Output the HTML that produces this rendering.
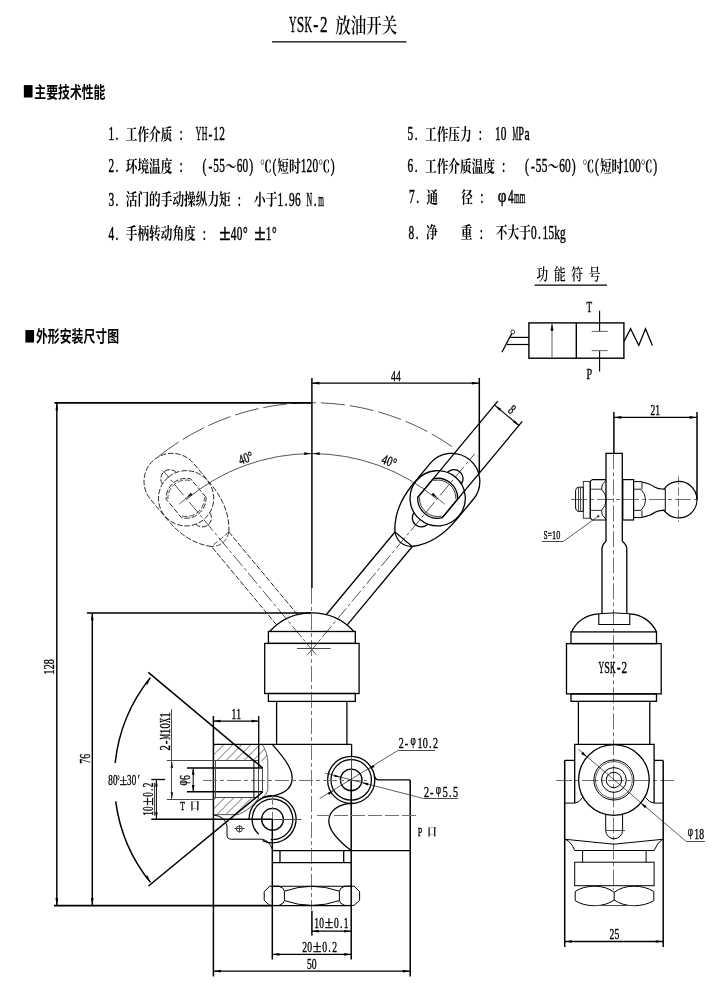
<!DOCTYPE html>
<html lang="zh-CN">
<head>
<meta charset="utf-8">
<title>YSK-2 放油开关</title>
<style>
html,body{margin:0;padding:0;background:#fff;}
body{width:726px;height:986px;overflow:hidden;}
svg{display:block;will-change:transform;}
</style>
</head>
<body>
<svg width="726" height="986" viewBox="0 0 726 986" stroke-linecap="butt">
<rect x="0" y="0" width="726" height="986" fill="#fff"/>
<!-- title -->
<text transform="translate(288.8,32.2)" font-family="'Liberation Serif','Noto Serif CJK SC',serif" fill="#000"><tspan x="0.12" y="0" font-size="23.5" textLength="7.52" lengthAdjust="spacingAndGlyphs" stroke="#000" stroke-width="0.4">Y</tspan><tspan x="7.87" y="0" font-size="23.5" textLength="7.52" lengthAdjust="spacingAndGlyphs" stroke="#000" stroke-width="0.4">S</tspan><tspan x="15.62" y="0" font-size="23.5" textLength="7.52" lengthAdjust="spacingAndGlyphs" stroke="#000" stroke-width="0.4">K</tspan><tspan x="24.54" y="0" font-size="23.5" textLength="5.16" lengthAdjust="spacingAndGlyphs" stroke="#000" stroke-width="0.4">-</tspan><tspan x="31.12" y="0" font-size="23.5" textLength="7.52" lengthAdjust="spacingAndGlyphs" stroke="#000" stroke-width="0.4">2</tspan> <tspan x="46.5" y="1" font-size="20.8" textLength="15.5" lengthAdjust="spacingAndGlyphs" font-weight="600">放</tspan><tspan x="62" y="1" font-size="20.8" textLength="15.5" lengthAdjust="spacingAndGlyphs" font-weight="600">油</tspan><tspan x="77.5" y="1" font-size="20.8" textLength="15.5" lengthAdjust="spacingAndGlyphs" font-weight="600">开</tspan><tspan x="93" y="1" font-size="20.8" textLength="15.5" lengthAdjust="spacingAndGlyphs" font-weight="600">关</tspan></text>
<line x1="272" y1="41.9" x2="406.5" y2="41.9" stroke="#000" stroke-width="1.2"/>
<!-- section headings -->
<text transform="translate(28.1,99.2) scale(0.7,1)" text-anchor="middle" font-family="'Liberation Sans','Noto Sans CJK SC',sans-serif" font-weight="bold" font-size="25.8">■</text>
<text transform="translate(34.3,97.6)" font-family="'Liberation Sans','Noto Sans CJK SC',sans-serif" fill="#000" font-weight="bold"><tspan x="0" y="0" font-size="15.6" textLength="11.86" lengthAdjust="spacingAndGlyphs">主</tspan><tspan x="11.86" y="0" font-size="15.6" textLength="11.86" lengthAdjust="spacingAndGlyphs">要</tspan><tspan x="23.72" y="0" font-size="15.6" textLength="11.86" lengthAdjust="spacingAndGlyphs">技</tspan><tspan x="35.58" y="0" font-size="15.6" textLength="11.86" lengthAdjust="spacingAndGlyphs">术</tspan><tspan x="47.44" y="0" font-size="15.6" textLength="11.86" lengthAdjust="spacingAndGlyphs">性</tspan><tspan x="59.3" y="0" font-size="15.6" textLength="11.86" lengthAdjust="spacingAndGlyphs">能</tspan></text>
<text transform="translate(29.8,343.6) scale(0.7,1)" text-anchor="middle" font-family="'Liberation Sans','Noto Sans CJK SC',sans-serif" font-weight="bold" font-size="25.8">■</text>
<text transform="translate(36,342)" font-family="'Liberation Sans','Noto Sans CJK SC',sans-serif" fill="#000" font-weight="bold"><tspan x="0" y="0" font-size="15.6" textLength="11.86" lengthAdjust="spacingAndGlyphs">外</tspan><tspan x="11.86" y="0" font-size="15.6" textLength="11.86" lengthAdjust="spacingAndGlyphs">形</tspan><tspan x="23.72" y="0" font-size="15.6" textLength="11.86" lengthAdjust="spacingAndGlyphs">安</tspan><tspan x="35.58" y="0" font-size="15.6" textLength="11.86" lengthAdjust="spacingAndGlyphs">装</tspan><tspan x="47.44" y="0" font-size="15.6" textLength="11.86" lengthAdjust="spacingAndGlyphs">尺</tspan><tspan x="59.3" y="0" font-size="15.6" textLength="11.86" lengthAdjust="spacingAndGlyphs">寸</tspan><tspan x="71.16" y="0" font-size="15.6" textLength="11.86" lengthAdjust="spacingAndGlyphs">图</tspan></text>
<!-- spec list -->
<text transform="translate(108.3,140.3)" font-family="'Liberation Serif','Noto Serif CJK SC',serif" fill="#000"><tspan x="0.09" y="0" font-size="17.8" textLength="5.66" lengthAdjust="spacingAndGlyphs" stroke="#000" stroke-width="0.45">1</tspan><tspan x="7.29" y="0" font-size="17.8" textLength="2.92" lengthAdjust="spacingAndGlyphs" stroke="#000" stroke-width="0.45">.</tspan> <tspan x="17.49" y="-0.3" font-size="15.8" textLength="11.66" lengthAdjust="spacingAndGlyphs" font-weight="700">工</tspan><tspan x="29.15" y="-0.3" font-size="15.8" textLength="11.66" lengthAdjust="spacingAndGlyphs" font-weight="700">作</tspan><tspan x="40.81" y="-0.3" font-size="15.8" textLength="11.66" lengthAdjust="spacingAndGlyphs" font-weight="700">介</tspan><tspan x="52.47" y="-0.3" font-size="15.8" textLength="11.66" lengthAdjust="spacingAndGlyphs" font-weight="700">质</tspan> <tspan x="71.25" y="0" font-size="17.8" textLength="3.24" lengthAdjust="spacingAndGlyphs" stroke="#000" stroke-width="0.45">:</tspan>  <tspan x="87.54" y="0" font-size="17.8" textLength="5.66" lengthAdjust="spacingAndGlyphs" stroke="#000" stroke-width="0.45">Y</tspan><tspan x="93.37" y="0" font-size="17.8" textLength="5.66" lengthAdjust="spacingAndGlyphs" stroke="#000" stroke-width="0.45">H</tspan><tspan x="100.08" y="0" font-size="17.8" textLength="3.88" lengthAdjust="spacingAndGlyphs" stroke="#000" stroke-width="0.45">-</tspan><tspan x="105.03" y="0" font-size="17.8" textLength="5.66" lengthAdjust="spacingAndGlyphs" stroke="#000" stroke-width="0.45">1</tspan><tspan x="110.86" y="0" font-size="17.8" textLength="5.66" lengthAdjust="spacingAndGlyphs" stroke="#000" stroke-width="0.45">2</tspan></text>
<text transform="translate(108.3,172.4)" font-family="'Liberation Serif','Noto Serif CJK SC',serif" fill="#000"><tspan x="0.09" y="0" font-size="17.8" textLength="5.66" lengthAdjust="spacingAndGlyphs" stroke="#000" stroke-width="0.45">2</tspan><tspan x="7.29" y="0" font-size="17.8" textLength="2.92" lengthAdjust="spacingAndGlyphs" stroke="#000" stroke-width="0.45">.</tspan> <tspan x="17.49" y="-0.3" font-size="15.8" textLength="11.66" lengthAdjust="spacingAndGlyphs" font-weight="700">环</tspan><tspan x="29.15" y="-0.3" font-size="15.8" textLength="11.66" lengthAdjust="spacingAndGlyphs" font-weight="700">境</tspan><tspan x="40.81" y="-0.3" font-size="15.8" textLength="11.66" lengthAdjust="spacingAndGlyphs" font-weight="700">温</tspan><tspan x="52.47" y="-0.3" font-size="15.8" textLength="11.66" lengthAdjust="spacingAndGlyphs" font-weight="700">度</tspan> <tspan x="71.25" y="0" font-size="17.8" textLength="3.24" lengthAdjust="spacingAndGlyphs" stroke="#000" stroke-width="0.45">:</tspan>   <tspan x="94.25" y="0" font-size="17.8" textLength="3.88" lengthAdjust="spacingAndGlyphs" stroke="#000" stroke-width="0.45">(</tspan><tspan x="100.08" y="0" font-size="17.8" textLength="3.88" lengthAdjust="spacingAndGlyphs" stroke="#000" stroke-width="0.45">-</tspan><tspan x="105.03" y="0" font-size="17.8" textLength="5.66" lengthAdjust="spacingAndGlyphs" stroke="#000" stroke-width="0.45">5</tspan><tspan x="110.86" y="0" font-size="17.8" textLength="5.66" lengthAdjust="spacingAndGlyphs" stroke="#000" stroke-width="0.45">5</tspan><tspan x="116.6" y="-0.3" font-size="15.8" textLength="11.66" lengthAdjust="spacingAndGlyphs" font-weight="700">～</tspan><tspan x="128.35" y="0" font-size="17.8" textLength="5.66" lengthAdjust="spacingAndGlyphs" stroke="#000" stroke-width="0.45">6</tspan><tspan x="134.18" y="0" font-size="17.8" textLength="5.66" lengthAdjust="spacingAndGlyphs" stroke="#000" stroke-width="0.45">0</tspan><tspan x="140.89" y="0" font-size="17.8" textLength="3.88" lengthAdjust="spacingAndGlyphs" stroke="#000" stroke-width="0.45">)</tspan> <tspan x="151.58" y="-0.3" font-size="15.8" textLength="11.66" lengthAdjust="spacingAndGlyphs" font-weight="700">℃</tspan><tspan x="164.21" y="0" font-size="17.8" textLength="3.88" lengthAdjust="spacingAndGlyphs" stroke="#000" stroke-width="0.45">(</tspan><tspan x="169.07" y="-0.3" font-size="15.8" textLength="11.66" lengthAdjust="spacingAndGlyphs" font-weight="700">短</tspan><tspan x="180.73" y="-0.3" font-size="15.8" textLength="11.66" lengthAdjust="spacingAndGlyphs" font-weight="700">时</tspan><tspan x="192.48" y="0" font-size="17.8" textLength="5.66" lengthAdjust="spacingAndGlyphs" stroke="#000" stroke-width="0.45">1</tspan><tspan x="198.31" y="0" font-size="17.8" textLength="5.66" lengthAdjust="spacingAndGlyphs" stroke="#000" stroke-width="0.45">2</tspan><tspan x="204.14" y="0" font-size="17.8" textLength="5.66" lengthAdjust="spacingAndGlyphs" stroke="#000" stroke-width="0.45">0</tspan><tspan x="209.88" y="-0.3" font-size="15.8" textLength="11.66" lengthAdjust="spacingAndGlyphs" font-weight="700">℃</tspan><tspan x="222.51" y="0" font-size="17.8" textLength="3.88" lengthAdjust="spacingAndGlyphs" stroke="#000" stroke-width="0.45">)</tspan></text>
<text transform="translate(108.3,205.7)" font-family="'Liberation Serif','Noto Serif CJK SC',serif" fill="#000"><tspan x="0.09" y="0" font-size="17.8" textLength="5.66" lengthAdjust="spacingAndGlyphs" stroke="#000" stroke-width="0.45">3</tspan><tspan x="7.29" y="0" font-size="17.8" textLength="2.92" lengthAdjust="spacingAndGlyphs" stroke="#000" stroke-width="0.45">.</tspan> <tspan x="17.49" y="-0.3" font-size="15.8" textLength="11.66" lengthAdjust="spacingAndGlyphs" font-weight="700">活</tspan><tspan x="29.15" y="-0.3" font-size="15.8" textLength="11.66" lengthAdjust="spacingAndGlyphs" font-weight="700">门</tspan><tspan x="40.81" y="-0.3" font-size="15.8" textLength="11.66" lengthAdjust="spacingAndGlyphs" font-weight="700">的</tspan><tspan x="52.47" y="-0.3" font-size="15.8" textLength="11.66" lengthAdjust="spacingAndGlyphs" font-weight="700">手</tspan><tspan x="64.13" y="-0.3" font-size="15.8" textLength="11.66" lengthAdjust="spacingAndGlyphs" font-weight="700">动</tspan><tspan x="75.79" y="-0.3" font-size="15.8" textLength="11.66" lengthAdjust="spacingAndGlyphs" font-weight="700">操</tspan><tspan x="87.45" y="-0.3" font-size="15.8" textLength="11.66" lengthAdjust="spacingAndGlyphs" font-weight="700">纵</tspan><tspan x="99.11" y="-0.3" font-size="15.8" textLength="11.66" lengthAdjust="spacingAndGlyphs" font-weight="700">力</tspan><tspan x="110.77" y="-0.3" font-size="15.8" textLength="11.66" lengthAdjust="spacingAndGlyphs" font-weight="700">矩</tspan> <tspan x="129.55" y="0" font-size="17.8" textLength="3.24" lengthAdjust="spacingAndGlyphs" stroke="#000" stroke-width="0.45">:</tspan>  <tspan x="145.75" y="-0.3" font-size="15.8" textLength="11.66" lengthAdjust="spacingAndGlyphs" font-weight="700">小</tspan><tspan x="157.41" y="-0.3" font-size="15.8" textLength="11.66" lengthAdjust="spacingAndGlyphs" font-weight="700">于</tspan><tspan x="169.16" y="0" font-size="17.8" textLength="5.66" lengthAdjust="spacingAndGlyphs" stroke="#000" stroke-width="0.45">1</tspan><tspan x="176.36" y="0" font-size="17.8" textLength="2.92" lengthAdjust="spacingAndGlyphs" stroke="#000" stroke-width="0.45">.</tspan><tspan x="180.82" y="0" font-size="17.8" textLength="5.66" lengthAdjust="spacingAndGlyphs" stroke="#000" stroke-width="0.45">9</tspan><tspan x="186.65" y="0" font-size="17.8" textLength="5.66" lengthAdjust="spacingAndGlyphs" stroke="#000" stroke-width="0.45">6</tspan> <tspan x="198.31" y="0" font-size="17.8" textLength="5.66" lengthAdjust="spacingAndGlyphs" stroke="#000" stroke-width="0.45">N</tspan><tspan x="205.51" y="0" font-size="17.8" textLength="2.92" lengthAdjust="spacingAndGlyphs" stroke="#000" stroke-width="0.45">.</tspan><tspan x="209.97" y="0" font-size="17.8" textLength="5.66" lengthAdjust="spacingAndGlyphs" stroke="#000" stroke-width="0.45">m</tspan></text>
<text transform="translate(108.3,239.7)" font-family="'Liberation Serif','Noto Serif CJK SC',serif" fill="#000"><tspan x="0.09" y="0" font-size="17.8" textLength="5.66" lengthAdjust="spacingAndGlyphs" stroke="#000" stroke-width="0.45">4</tspan><tspan x="7.29" y="0" font-size="17.8" textLength="2.92" lengthAdjust="spacingAndGlyphs" stroke="#000" stroke-width="0.45">.</tspan> <tspan x="17.49" y="-0.3" font-size="15.8" textLength="11.66" lengthAdjust="spacingAndGlyphs" font-weight="700">手</tspan><tspan x="29.15" y="-0.3" font-size="15.8" textLength="11.66" lengthAdjust="spacingAndGlyphs" font-weight="700">柄</tspan><tspan x="40.81" y="-0.3" font-size="15.8" textLength="11.66" lengthAdjust="spacingAndGlyphs" font-weight="700">转</tspan><tspan x="52.47" y="-0.3" font-size="15.8" textLength="11.66" lengthAdjust="spacingAndGlyphs" font-weight="700">动</tspan><tspan x="64.13" y="-0.3" font-size="15.8" textLength="11.66" lengthAdjust="spacingAndGlyphs" font-weight="700">角</tspan><tspan x="75.79" y="-0.3" font-size="15.8" textLength="11.66" lengthAdjust="spacingAndGlyphs" font-weight="700">度</tspan> <tspan x="94.57" y="0" font-size="17.8" textLength="3.24" lengthAdjust="spacingAndGlyphs" stroke="#000" stroke-width="0.45">:</tspan>  <tspan x="110.94" y="0" font-size="22.25" textLength="11.31" lengthAdjust="spacingAndGlyphs" stroke="#000" stroke-width="0.45">±</tspan><tspan x="122.52" y="0" font-size="17.8" textLength="5.66" lengthAdjust="spacingAndGlyphs" stroke="#000" stroke-width="0.45">4</tspan><tspan x="128.35" y="0" font-size="17.8" textLength="5.66" lengthAdjust="spacingAndGlyphs" stroke="#000" stroke-width="0.45">0</tspan><tspan x="134.67" y="0" font-size="17.8" textLength="4.66" lengthAdjust="spacingAndGlyphs" stroke="#000" stroke-width="0.45">°</tspan> <tspan x="145.92" y="0" font-size="22.25" textLength="11.31" lengthAdjust="spacingAndGlyphs" stroke="#000" stroke-width="0.45">±</tspan><tspan x="157.5" y="0" font-size="17.8" textLength="5.66" lengthAdjust="spacingAndGlyphs" stroke="#000" stroke-width="0.45">1</tspan><tspan x="163.82" y="0" font-size="17.8" textLength="4.66" lengthAdjust="spacingAndGlyphs" stroke="#000" stroke-width="0.45">°</tspan></text>
<text transform="translate(407.5,140)" font-family="'Liberation Serif','Noto Serif CJK SC',serif" fill="#000"><tspan x="0.09" y="0" font-size="17.8" textLength="5.66" lengthAdjust="spacingAndGlyphs" stroke="#000" stroke-width="0.45">5</tspan><tspan x="7.29" y="0" font-size="17.8" textLength="2.92" lengthAdjust="spacingAndGlyphs" stroke="#000" stroke-width="0.45">.</tspan> <tspan x="17.49" y="-0.3" font-size="15.8" textLength="11.66" lengthAdjust="spacingAndGlyphs" font-weight="700">工</tspan><tspan x="29.15" y="-0.3" font-size="15.8" textLength="11.66" lengthAdjust="spacingAndGlyphs" font-weight="700">作</tspan><tspan x="40.81" y="-0.3" font-size="15.8" textLength="11.66" lengthAdjust="spacingAndGlyphs" font-weight="700">压</tspan><tspan x="52.47" y="-0.3" font-size="15.8" textLength="11.66" lengthAdjust="spacingAndGlyphs" font-weight="700">力</tspan> <tspan x="71.25" y="0" font-size="17.8" textLength="3.24" lengthAdjust="spacingAndGlyphs" stroke="#000" stroke-width="0.45">:</tspan>  <tspan x="87.54" y="0" font-size="17.8" textLength="5.66" lengthAdjust="spacingAndGlyphs" stroke="#000" stroke-width="0.45">1</tspan><tspan x="93.37" y="0" font-size="17.8" textLength="5.66" lengthAdjust="spacingAndGlyphs" stroke="#000" stroke-width="0.45">0</tspan> <tspan x="105.03" y="0" font-size="17.8" textLength="5.66" lengthAdjust="spacingAndGlyphs" stroke="#000" stroke-width="0.45">M</tspan><tspan x="110.86" y="0" font-size="17.8" textLength="5.66" lengthAdjust="spacingAndGlyphs" stroke="#000" stroke-width="0.45">P</tspan><tspan x="116.93" y="0" font-size="17.8" textLength="5.18" lengthAdjust="spacingAndGlyphs" stroke="#000" stroke-width="0.45">a</tspan></text>
<text transform="translate(407.5,171.9)" font-family="'Liberation Serif','Noto Serif CJK SC',serif" fill="#000"><tspan x="0.09" y="0" font-size="17.8" textLength="5.66" lengthAdjust="spacingAndGlyphs" stroke="#000" stroke-width="0.45">6</tspan><tspan x="7.29" y="0" font-size="17.8" textLength="2.92" lengthAdjust="spacingAndGlyphs" stroke="#000" stroke-width="0.45">.</tspan> <tspan x="17.49" y="-0.3" font-size="15.8" textLength="11.66" lengthAdjust="spacingAndGlyphs" font-weight="700">工</tspan><tspan x="29.15" y="-0.3" font-size="15.8" textLength="11.66" lengthAdjust="spacingAndGlyphs" font-weight="700">作</tspan><tspan x="40.81" y="-0.3" font-size="15.8" textLength="11.66" lengthAdjust="spacingAndGlyphs" font-weight="700">介</tspan><tspan x="52.47" y="-0.3" font-size="15.8" textLength="11.66" lengthAdjust="spacingAndGlyphs" font-weight="700">质</tspan><tspan x="64.13" y="-0.3" font-size="15.8" textLength="11.66" lengthAdjust="spacingAndGlyphs" font-weight="700">温</tspan><tspan x="75.79" y="-0.3" font-size="15.8" textLength="11.66" lengthAdjust="spacingAndGlyphs" font-weight="700">度</tspan> <tspan x="94.57" y="0" font-size="17.8" textLength="3.24" lengthAdjust="spacingAndGlyphs" stroke="#000" stroke-width="0.45">:</tspan>   <tspan x="117.57" y="0" font-size="17.8" textLength="3.88" lengthAdjust="spacingAndGlyphs" stroke="#000" stroke-width="0.45">(</tspan><tspan x="123.4" y="0" font-size="17.8" textLength="3.88" lengthAdjust="spacingAndGlyphs" stroke="#000" stroke-width="0.45">-</tspan><tspan x="128.35" y="0" font-size="17.8" textLength="5.66" lengthAdjust="spacingAndGlyphs" stroke="#000" stroke-width="0.45">5</tspan><tspan x="134.18" y="0" font-size="17.8" textLength="5.66" lengthAdjust="spacingAndGlyphs" stroke="#000" stroke-width="0.45">5</tspan><tspan x="139.92" y="-0.3" font-size="15.8" textLength="11.66" lengthAdjust="spacingAndGlyphs" font-weight="700">～</tspan><tspan x="151.67" y="0" font-size="17.8" textLength="5.66" lengthAdjust="spacingAndGlyphs" stroke="#000" stroke-width="0.45">6</tspan><tspan x="157.5" y="0" font-size="17.8" textLength="5.66" lengthAdjust="spacingAndGlyphs" stroke="#000" stroke-width="0.45">0</tspan><tspan x="164.21" y="0" font-size="17.8" textLength="3.88" lengthAdjust="spacingAndGlyphs" stroke="#000" stroke-width="0.45">)</tspan> <tspan x="174.9" y="-0.3" font-size="15.8" textLength="11.66" lengthAdjust="spacingAndGlyphs" font-weight="700">℃</tspan><tspan x="187.53" y="0" font-size="17.8" textLength="3.88" lengthAdjust="spacingAndGlyphs" stroke="#000" stroke-width="0.45">(</tspan><tspan x="192.39" y="-0.3" font-size="15.8" textLength="11.66" lengthAdjust="spacingAndGlyphs" font-weight="700">短</tspan><tspan x="204.05" y="-0.3" font-size="15.8" textLength="11.66" lengthAdjust="spacingAndGlyphs" font-weight="700">时</tspan><tspan x="215.8" y="0" font-size="17.8" textLength="5.66" lengthAdjust="spacingAndGlyphs" stroke="#000" stroke-width="0.45">1</tspan><tspan x="221.63" y="0" font-size="17.8" textLength="5.66" lengthAdjust="spacingAndGlyphs" stroke="#000" stroke-width="0.45">0</tspan><tspan x="227.46" y="0" font-size="17.8" textLength="5.66" lengthAdjust="spacingAndGlyphs" stroke="#000" stroke-width="0.45">0</tspan><tspan x="233.2" y="-0.3" font-size="15.8" textLength="11.66" lengthAdjust="spacingAndGlyphs" font-weight="700">℃</tspan><tspan x="245.83" y="0" font-size="17.8" textLength="3.88" lengthAdjust="spacingAndGlyphs" stroke="#000" stroke-width="0.45">)</tspan></text>
<text transform="translate(408.9,203.3)" font-family="'Liberation Serif','Noto Serif CJK SC',serif" fill="#000"><tspan x="0.09" y="0" font-size="17.8" textLength="5.66" lengthAdjust="spacingAndGlyphs" stroke="#000" stroke-width="0.45">7</tspan><tspan x="7.29" y="0" font-size="17.8" textLength="2.92" lengthAdjust="spacingAndGlyphs" stroke="#000" stroke-width="0.45">.</tspan> <tspan x="17.49" y="-0.3" font-size="15.8" textLength="11.66" lengthAdjust="spacingAndGlyphs" font-weight="700">通</tspan>    <tspan x="52.47" y="-0.3" font-size="15.8" textLength="11.66" lengthAdjust="spacingAndGlyphs" font-weight="700">径</tspan> <tspan x="71.25" y="0" font-size="17.8" textLength="3.24" lengthAdjust="spacingAndGlyphs" stroke="#000" stroke-width="0.45">:</tspan>  <tspan x="88.91" y="-1.78" font-size="17.8" textLength="8.73" lengthAdjust="spacingAndGlyphs" stroke="#000" stroke-width="0.45">φ</tspan><tspan x="99.2" y="0" font-size="17.8" textLength="5.66" lengthAdjust="spacingAndGlyphs" stroke="#000" stroke-width="0.45">4</tspan><tspan x="105.03" y="0" font-size="17.8" textLength="5.66" lengthAdjust="spacingAndGlyphs" stroke="#000" stroke-width="0.45">m</tspan><tspan x="110.86" y="0" font-size="17.8" textLength="5.66" lengthAdjust="spacingAndGlyphs" stroke="#000" stroke-width="0.45">m</tspan></text>
<text transform="translate(408.4,238.7)" font-family="'Liberation Serif','Noto Serif CJK SC',serif" fill="#000"><tspan x="0.09" y="0" font-size="17.8" textLength="5.66" lengthAdjust="spacingAndGlyphs" stroke="#000" stroke-width="0.45">8</tspan><tspan x="7.29" y="0" font-size="17.8" textLength="2.92" lengthAdjust="spacingAndGlyphs" stroke="#000" stroke-width="0.45">.</tspan> <tspan x="17.49" y="-0.3" font-size="15.8" textLength="11.66" lengthAdjust="spacingAndGlyphs" font-weight="700">净</tspan>    <tspan x="52.47" y="-0.3" font-size="15.8" textLength="11.66" lengthAdjust="spacingAndGlyphs" font-weight="700">重</tspan> <tspan x="71.25" y="0" font-size="17.8" textLength="3.24" lengthAdjust="spacingAndGlyphs" stroke="#000" stroke-width="0.45">:</tspan>  <tspan x="87.45" y="-0.3" font-size="15.8" textLength="11.66" lengthAdjust="spacingAndGlyphs" font-weight="700">不</tspan><tspan x="99.11" y="-0.3" font-size="15.8" textLength="11.66" lengthAdjust="spacingAndGlyphs" font-weight="700">大</tspan><tspan x="110.77" y="-0.3" font-size="15.8" textLength="11.66" lengthAdjust="spacingAndGlyphs" font-weight="700">于</tspan><tspan x="122.52" y="0" font-size="17.8" textLength="5.66" lengthAdjust="spacingAndGlyphs" stroke="#000" stroke-width="0.45">0</tspan><tspan x="129.72" y="0" font-size="17.8" textLength="2.92" lengthAdjust="spacingAndGlyphs" stroke="#000" stroke-width="0.45">.</tspan><tspan x="134.18" y="0" font-size="17.8" textLength="5.66" lengthAdjust="spacingAndGlyphs" stroke="#000" stroke-width="0.45">1</tspan><tspan x="140.01" y="0" font-size="17.8" textLength="5.66" lengthAdjust="spacingAndGlyphs" stroke="#000" stroke-width="0.45">5</tspan><tspan x="145.84" y="0" font-size="17.8" textLength="5.66" lengthAdjust="spacingAndGlyphs" stroke="#000" stroke-width="0.45">k</tspan><tspan x="151.67" y="0" font-size="17.8" textLength="5.66" lengthAdjust="spacingAndGlyphs" stroke="#000" stroke-width="0.45">g</tspan></text>
<!-- function symbol -->
<text transform="translate(536.4,280.6)" font-family="'Liberation Serif','Noto Serif CJK SC',serif" fill="#000"><tspan x="0" y="-0.3" font-size="15.6" textLength="11.66" lengthAdjust="spacingAndGlyphs" font-weight="600">功</tspan> <tspan x="17.49" y="-0.3" font-size="15.6" textLength="11.66" lengthAdjust="spacingAndGlyphs" font-weight="600">能</tspan> <tspan x="34.98" y="-0.3" font-size="15.6" textLength="11.66" lengthAdjust="spacingAndGlyphs" font-weight="600">符</tspan> <tspan x="52.47" y="-0.3" font-size="15.6" textLength="11.66" lengthAdjust="spacingAndGlyphs" font-weight="600">号</tspan></text>
<line x1="534.6" y1="285.1" x2="607" y2="285.1" stroke="#000" stroke-width="1.1"/>
<rect x="528.9" y="322.9" width="95" height="35.3" fill="none" stroke="#000" stroke-width="1.4"/>
<line x1="576.3" y1="322.9" x2="576.3" y2="358.2" stroke="#000" stroke-width="1.4"/>
<line x1="552" y1="358" x2="552" y2="324" stroke="#707070" stroke-width="1.1"/>
<polygon points="552,323.2 553.5,330.7 550.5,330.7" fill="#000"/>
<line x1="599.6" y1="310.8" x2="599.6" y2="331.2" stroke="#000" stroke-width="1.1"/>
<line x1="591.7" y1="331.4" x2="607.8" y2="331.4" stroke="#707070" stroke-width="1.1"/>
<line x1="599.6" y1="350.5" x2="599.6" y2="371.6" stroke="#000" stroke-width="1.1"/>
<line x1="591.7" y1="350.6" x2="607.8" y2="350.6" stroke="#707070" stroke-width="1.1"/>
<text transform="translate(586.3,311.8)" font-family="'Liberation Serif','Noto Serif CJK SC',serif" fill="#000"><tspan x="0.09" y="0" font-size="14.5" textLength="5.66" lengthAdjust="spacingAndGlyphs" stroke="#000" stroke-width="0.35">T</tspan></text>
<text transform="translate(586.3,379.4)" font-family="'Liberation Serif','Noto Serif CJK SC',serif" fill="#000"><tspan x="0.09" y="0" font-size="14.5" textLength="5.66" lengthAdjust="spacingAndGlyphs" stroke="#000" stroke-width="0.35">P</tspan></text>
<path d="M623.9,341.8 L630.6,328.7 L638.8,345.5 L645.5,328.7 L652.4,345.5" fill="none" stroke="#000" stroke-width="1.3"/>
<circle cx="512.8" cy="331.9" r="1.9" fill="none" stroke="#000" stroke-width="0.8"/>
<line x1="511.8" y1="333.6" x2="501.9" y2="352.2" stroke="#000" stroke-width="1.3"/>
<line x1="510.6" y1="337.4" x2="528.9" y2="337.4" stroke="#000" stroke-width="1.2"/>
<line x1="506.9" y1="344.5" x2="528.9" y2="344.5" stroke="#000" stroke-width="1.2"/>
<!-- front view -->
<path d="M159.07,456.07 A245.5,245.5 0 0 1 456.2,449.59" fill="none" stroke="#2a2a2a" stroke-width="0.8" stroke-dasharray="24 5"/>
<path d="M186.81,499.13 A194.6,194.6 0 0 1 436.99,499.13" fill="none" stroke="#2a2a2a" stroke-width="0.8"/>
<g transform="matrix(-0.64,-0.77,-0.77,0.64,186.11,498.29)" fill="none" stroke="#1a1a1a" stroke-width="0.85" stroke-dasharray="5.5 1.8">
<path d="M-160.6,-11.3 L-53.2,-11.3 M-154.9,11.3 L-53.2,11.3"/>
<path d="M-53.2,-11.3 L-53.2,11.3 M-53.2,-11.3 Q-62,0 -53.2,11.3" stroke-width="0.68"/>
<path d="M-53.2,-11.3 Q-35,-28 -5,-28 L22,-28 A28,28 0 0 1 22,28 L-5,28 Q-35,28 -53.2,11.3"/>
<circle cx="0" cy="0" r="27.6"/>
<path d="M26.1,-8.98 A9,9 0 0 1 26.1,8.98 M-26.1,-8.98 A9,9 0 0 0 -26.1,8.98"/>
<path d="M-12,-15.9 L12,-15.9 A19.9,19.9 0 0 1 12,15.9 L-12,15.9 A19.9,19.9 0 0 1 -12,-15.9 Z"/>
<path d="M11,-14.5 A18.2,18.2 0 0 1 11,14.5 M-11,14.5 A18.2,18.2 0 0 1 -11,-14.5" stroke-width="0.7"/>
</g>
<g transform="matrix(-0.64,-0.77,-0.77,0.64,186.11,498.29)" fill="none" stroke="#1a1a1a" stroke-width="0.7">
<path d="M-203,0 L36,0" stroke-dasharray="14 3 3 3"/>
</g>
<g transform="matrix(0.64,-0.77,0.77,0.64,437.69,498.29)" fill="none" stroke="#000" stroke-width="1.3">
<path d="M-160.6,-11.3 L-53.2,-11.3 M-154.9,11.3 L-53.2,11.3"/>
<path d="M-53.2,-11.3 L-53.2,11.3 M-53.2,-11.3 Q-62,0 -53.2,11.3" stroke-width="1.04"/>
<path d="M-53.2,-11.3 Q-35,-28 -5,-28 L22,-28 A28,28 0 0 1 22,28 L-5,28 Q-35,28 -53.2,11.3"/>
<circle cx="0" cy="0" r="27.6"/>
<path d="M26.1,-8.98 A9,9 0 0 1 26.1,8.98 M-26.1,-8.98 A9,9 0 0 0 -26.1,8.98"/>
<path d="M-12,-15.9 L12,-15.9 A19.9,19.9 0 0 1 12,15.9 L-12,15.9 A19.9,19.9 0 0 1 -12,-15.9 Z"/>
<path d="M11,-14.5 A18.2,18.2 0 0 1 11,14.5 M-11,14.5 A18.2,18.2 0 0 1 -11,-14.5" stroke-width="0.7"/>
<path d="M-12,-15.9 L113,-15.9 M-12,15.9 L113,15.9"/>
</g>
<g transform="matrix(0.64,-0.77,0.77,0.64,437.69,498.29)" fill="none" stroke="#1a1a1a" stroke-width="0.7">
<path d="M-203,0 L58,0" stroke-dasharray="14 3 3 3"/>
</g>
<polygon points="311.1,453.6 304.1,454.9 304.1,452.3" fill="#000"/>
<polygon points="312.7,453.6 319.7,452.3 319.7,454.9" fill="#000"/>
<polygon points="437.69,498.29 431.5,494.78 433.17,492.79" fill="#000"/>
<polygon points="186.11,498.29 190.63,492.79 192.3,494.78" fill="#000"/>
<line x1="437.69" y1="498.29" x2="444.59" y2="504.07" stroke="#1a1a1a" stroke-width="0.7"/>
<line x1="186.11" y1="498.29" x2="179.21" y2="504.07" stroke="#1a1a1a" stroke-width="0.7"/>
<text transform="translate(240.33,464.86) rotate(-20)" font-family="'Liberation Serif','Noto Serif CJK SC',serif" fill="#000"><tspan x="0.08" y="0" font-size="14" textLength="5.14" lengthAdjust="spacingAndGlyphs" stroke="#000" stroke-width="0.35">4</tspan><tspan x="5.38" y="0" font-size="14" textLength="5.14" lengthAdjust="spacingAndGlyphs" stroke="#000" stroke-width="0.35">0</tspan><tspan x="10.66" y="0" font-size="14" textLength="4.11" lengthAdjust="spacingAndGlyphs" stroke="#000" stroke-width="0.35">°</tspan></text>
<text transform="translate(380.77,462.98) rotate(20)" font-family="'Liberation Serif','Noto Serif CJK SC',serif" fill="#000"><tspan x="0.08" y="0" font-size="14" textLength="5.14" lengthAdjust="spacingAndGlyphs" stroke="#000" stroke-width="0.35">4</tspan><tspan x="5.38" y="0" font-size="14" textLength="5.14" lengthAdjust="spacingAndGlyphs" stroke="#000" stroke-width="0.35">0</tspan><tspan x="10.66" y="0" font-size="14" textLength="4.11" lengthAdjust="spacingAndGlyphs" stroke="#000" stroke-width="0.35">°</tspan></text>
<line x1="494.93" y1="405.33" x2="519.29" y2="425.77" stroke="#000" stroke-width="1.1"/>
<polygon points="519.29,425.77 513.1,422.27 514.77,420.28" fill="#000"/>
<polygon points="494.93,405.33 501.13,408.84 499.46,410.83" fill="#000"/>
<text transform="translate(509.17,413.1) rotate(40)" font-family="'Liberation Serif','Noto Serif CJK SC',serif" fill="#000"><tspan x="-2.4" y="0" font-size="14" textLength="4.8" lengthAdjust="spacingAndGlyphs" stroke="#000" stroke-width="0.35">8</tspan></text>
<line x1="311.9" y1="377.9" x2="311.9" y2="588" stroke="#000" stroke-width="1.5"/>
<line x1="479.3" y1="377.9" x2="479.3" y2="472.5" stroke="#000" stroke-width="1.5"/>
<line x1="311.9" y1="383.2" x2="479.3" y2="383.2" stroke="#000" stroke-width="1.3"/>
<polygon points="479.3,383.2 471.8,384.55 471.8,381.85" fill="#000"/>
<polygon points="311.9,383.2 319.4,381.85 319.4,384.55" fill="#000"/>
<text transform="translate(395.9,380.6)" font-family="'Liberation Serif','Noto Serif CJK SC',serif" fill="#000"><tspan x="-4.88" y="0" font-size="14" textLength="4.8" lengthAdjust="spacingAndGlyphs" stroke="#000" stroke-width="0.35">4</tspan><tspan x="0.07" y="0" font-size="14" textLength="4.8" lengthAdjust="spacingAndGlyphs" stroke="#000" stroke-width="0.35">4</tspan></text>
<line x1="311.5" y1="588" x2="311.5" y2="910" stroke="#707070" stroke-width="1" stroke-dasharray="16 3 4 3"/>
<line x1="311.9" y1="910.8" x2="311.9" y2="935.4" stroke="#000" stroke-width="1.5"/>
<line x1="297" y1="648.5" x2="330.6" y2="648.5" stroke="#4a4a4a" stroke-width="1"/>
<line x1="54.4" y1="402.9" x2="311.9" y2="402.9" stroke="#000" stroke-width="1.6"/>
<line x1="54" y1="905.6" x2="272" y2="905.6" stroke="#000" stroke-width="1.6"/>
<line x1="56.8" y1="402.8" x2="56.8" y2="905.6" stroke="#000" stroke-width="1.45"/>
<polygon points="56.8,905.6 55.45,898.1 58.15,898.1" fill="#000"/>
<polygon points="56.8,402.8 58.15,410.3 55.45,410.3" fill="#000"/>
<line x1="86.9" y1="613" x2="311" y2="613" stroke="#000" stroke-width="1.6"/>
<line x1="92.3" y1="613" x2="92.3" y2="905.6" stroke="#000" stroke-width="1.45"/>
<polygon points="92.3,905.6 90.95,898.1 93.65,898.1" fill="#000"/>
<polygon points="92.3,613 93.65,620.5 90.95,620.5" fill="#000"/>
<text transform="translate(54.3,666.8) rotate(-90)" font-family="'Liberation Serif','Noto Serif CJK SC',serif" fill="#000"><tspan x="-7.72" y="0" font-size="14" textLength="5.04" lengthAdjust="spacingAndGlyphs" stroke="#000" stroke-width="0.35">1</tspan><tspan x="-2.52" y="0" font-size="14" textLength="5.04" lengthAdjust="spacingAndGlyphs" stroke="#000" stroke-width="0.35">2</tspan><tspan x="2.68" y="0" font-size="14" textLength="5.04" lengthAdjust="spacingAndGlyphs" stroke="#000" stroke-width="0.35">8</tspan></text>
<text transform="translate(90.4,758.8) rotate(-90)" font-family="'Liberation Serif','Noto Serif CJK SC',serif" fill="#000"><tspan x="-4.92" y="0" font-size="14" textLength="4.85" lengthAdjust="spacingAndGlyphs" stroke="#000" stroke-width="0.35">7</tspan><tspan x="0.08" y="0" font-size="14" textLength="4.85" lengthAdjust="spacingAndGlyphs" stroke="#000" stroke-width="0.35">6</tspan></text>
<path d="M269.7,631.5 A56.9,56.9 0 0 1 353.9,631.5" fill="none" stroke="#000" stroke-width="1.3"/>
<rect x="268.4" y="631.5" width="86.9" height="11.9" fill="none" stroke="#000" stroke-width="1.3"/>
<rect x="264.7" y="643.4" width="94.4" height="50.1" fill="none" stroke="#000" stroke-width="1.3"/>
<rect x="268.4" y="693.5" width="86.9" height="7.9" fill="none" stroke="#000" stroke-width="1.3"/>
<line x1="276.6" y1="701.4" x2="276.6" y2="744.4" stroke="#000" stroke-width="1.3"/>
<line x1="346.9" y1="701.4" x2="346.9" y2="744.4" stroke="#000" stroke-width="1.3"/>
<line x1="213.4" y1="744.4" x2="351.6" y2="744.4" stroke="#000" stroke-width="1.3"/>
<line x1="351.6" y1="744.4" x2="351.6" y2="756.4" stroke="#000" stroke-width="1.3"/>
<line x1="213.4" y1="716" x2="213.4" y2="976.4" stroke="#000" stroke-width="1.5"/>
<path d="M374.2,775.5 Q375.3,779.9 379,779.9 L410.2,779.9" fill="none" stroke="#000" stroke-width="1.3"/>
<line x1="410.2" y1="779.9" x2="410.2" y2="976.4" stroke="#000" stroke-width="1.5"/>
<line x1="272.3" y1="850.6" x2="410.2" y2="850.6" stroke="#000" stroke-width="1.3"/>
<line x1="272.3" y1="862.6" x2="351.2" y2="862.6" stroke="#000" stroke-width="1.3"/>
<line x1="280" y1="850.6" x2="280" y2="862.6" stroke="#000" stroke-width="1.3"/>
<line x1="343.7" y1="850.6" x2="343.7" y2="862.6" stroke="#000" stroke-width="1.3"/>
<line x1="272.3" y1="819.3" x2="272.3" y2="959.5" stroke="#000" stroke-width="1.5"/>
<line x1="351.2" y1="779.9" x2="351.2" y2="959.5" stroke="#000" stroke-width="1.5"/>
<path d="M272.5,744.6 C283,756.5 292.2,768 292.2,778 C292.2,788.5 283,796 262,797.4" fill="none" stroke="#000" stroke-width="1.3"/>
<path d="M351.2,803.4 C339,803.8 328.8,811 328.8,821 C328.8,831 340,842 351.2,850.6" fill="none" stroke="#000" stroke-width="1.3"/>
<circle cx="351.2" cy="779.9" r="23.6" fill="none" stroke="#000" stroke-width="1.3"/>
<circle cx="351.2" cy="779.9" r="20.2" fill="none" stroke="#000" stroke-width="1.3"/>
<circle cx="351.2" cy="779.9" r="10.8" fill="none" stroke="#000" stroke-width="1.3"/>
<path d="M249,819.3 A23.5,23.5 0 1 1 262.57,840.6" fill="none" stroke="#000" stroke-width="1.3"/>
<path d="M258.92,834.39 A20.3,20.3 0 1 1 270.73,839.52" fill="none" stroke="#000" stroke-width="1.3"/>
<circle cx="272.5" cy="819.3" r="10.9" fill="none" stroke="#000" stroke-width="1.3"/>
<line x1="272.5" y1="795.8" x2="272.5" y2="819.3" stroke="#707070" stroke-width="1" stroke-dasharray="9 2 3 2"/>
<line x1="272.5" y1="819.5" x2="301.4" y2="819.5" stroke="#4a4a4a" stroke-width="1"/>
<line x1="351.5" y1="757.5" x2="351.5" y2="780" stroke="#4a4a4a" stroke-width="1"/>
<line x1="203" y1="780.5" x2="367" y2="780.5" stroke="#707070" stroke-width="1" stroke-dasharray="14 3 4 3"/>
<line x1="317" y1="815.5" x2="416.4" y2="815.5" stroke="#707070" stroke-width="1" stroke-dasharray="14 3"/>
<path d="M213.9,815.1 Q224.5,816 227,826 L227,835 Q227,839.2 231.4,839.2 L262,839.2 Q269,840.5 272.3,849" fill="none" stroke="#000" stroke-width="1"/>
<circle cx="239.4" cy="828.9" r="3" fill="none" stroke="#000" stroke-width="0.8"/>
<line x1="234.4" y1="828.5" x2="244.8" y2="828.5" stroke="#4a4a4a" stroke-width="1"/>
<line x1="239.5" y1="825.2" x2="239.5" y2="832.6" stroke="#4a4a4a" stroke-width="1"/>
<clipPath id="hc1"><path d="M213.4,744.4 L262,744.4 Q267.5,752 267.8,760.9 L213.4,760.9 Z"/></clipPath>
<clipPath id="hc2"><path d="M213.4,797.8 L259,797.8 Q250,810 238,814.6 L213.4,814.6 Z"/></clipPath>
<g clip-path="url(#hc1)" stroke="#1a1a1a" stroke-width="0.65">
<line x1="75.5" y1="830" x2="165.5" y2="740"/>
<line x1="84.5" y1="830" x2="174.5" y2="740"/>
<line x1="93.5" y1="830" x2="183.5" y2="740"/>
<line x1="102.5" y1="830" x2="192.5" y2="740"/>
<line x1="111.5" y1="830" x2="201.5" y2="740"/>
<line x1="120.5" y1="830" x2="210.5" y2="740"/>
<line x1="129.5" y1="830" x2="219.5" y2="740"/>
<line x1="138.5" y1="830" x2="228.5" y2="740"/>
<line x1="147.5" y1="830" x2="237.5" y2="740"/>
<line x1="156.5" y1="830" x2="246.5" y2="740"/>
<line x1="165.5" y1="830" x2="255.5" y2="740"/>
<line x1="174.5" y1="830" x2="264.5" y2="740"/>
<line x1="183.5" y1="830" x2="273.5" y2="740"/>
<line x1="192.5" y1="830" x2="282.5" y2="740"/>
<line x1="201.5" y1="830" x2="291.5" y2="740"/>
<line x1="210.5" y1="830" x2="300.5" y2="740"/>
<line x1="219.5" y1="830" x2="309.5" y2="740"/>
<line x1="228.5" y1="830" x2="318.5" y2="740"/>
<line x1="237.5" y1="830" x2="327.5" y2="740"/>
<line x1="246.5" y1="830" x2="336.5" y2="740"/>
<line x1="255.5" y1="830" x2="345.5" y2="740"/>
<line x1="264.5" y1="830" x2="354.5" y2="740"/>
<line x1="273.5" y1="830" x2="363.5" y2="740"/>
<line x1="282.5" y1="830" x2="372.5" y2="740"/>
<line x1="291.5" y1="830" x2="381.5" y2="740"/>
<line x1="300.5" y1="830" x2="390.5" y2="740"/>
</g>
<g clip-path="url(#hc2)" stroke="#1a1a1a" stroke-width="0.65">
<line x1="75.5" y1="830" x2="165.5" y2="740"/>
<line x1="84.5" y1="830" x2="174.5" y2="740"/>
<line x1="93.5" y1="830" x2="183.5" y2="740"/>
<line x1="102.5" y1="830" x2="192.5" y2="740"/>
<line x1="111.5" y1="830" x2="201.5" y2="740"/>
<line x1="120.5" y1="830" x2="210.5" y2="740"/>
<line x1="129.5" y1="830" x2="219.5" y2="740"/>
<line x1="138.5" y1="830" x2="228.5" y2="740"/>
<line x1="147.5" y1="830" x2="237.5" y2="740"/>
<line x1="156.5" y1="830" x2="246.5" y2="740"/>
<line x1="165.5" y1="830" x2="255.5" y2="740"/>
<line x1="174.5" y1="830" x2="264.5" y2="740"/>
<line x1="183.5" y1="830" x2="273.5" y2="740"/>
<line x1="192.5" y1="830" x2="282.5" y2="740"/>
<line x1="201.5" y1="830" x2="291.5" y2="740"/>
<line x1="210.5" y1="830" x2="300.5" y2="740"/>
<line x1="219.5" y1="830" x2="309.5" y2="740"/>
<line x1="228.5" y1="830" x2="318.5" y2="740"/>
<line x1="237.5" y1="830" x2="327.5" y2="740"/>
<line x1="246.5" y1="830" x2="336.5" y2="740"/>
<line x1="255.5" y1="830" x2="345.5" y2="740"/>
<line x1="264.5" y1="830" x2="354.5" y2="740"/>
<line x1="273.5" y1="830" x2="363.5" y2="740"/>
<line x1="282.5" y1="830" x2="372.5" y2="740"/>
<line x1="291.5" y1="830" x2="381.5" y2="740"/>
<line x1="300.5" y1="830" x2="390.5" y2="740"/>
</g>
<path d="M262,744.4 Q267.5,752 267.8,762 L267.8,790 Q267,795 262,798" fill="none" stroke="#1a1a1a" stroke-width="0.7"/>
<path d="M259,797.8 Q250,810 238,814.6 L213.4,814.6" fill="none" stroke="#1a1a1a" stroke-width="0.7"/>
<line x1="213.4" y1="760.5" x2="258.7" y2="760.5" stroke="#4a4a4a" stroke-width="1"/>
<line x1="213.4" y1="797.5" x2="258.7" y2="797.5" stroke="#4a4a4a" stroke-width="1"/>
<line x1="187" y1="767.9" x2="262.7" y2="767.9" stroke="#000" stroke-width="1.5"/>
<line x1="187" y1="791.8" x2="262.7" y2="791.8" stroke="#000" stroke-width="1.5"/>
<line x1="215.5" y1="760.9" x2="215.5" y2="797.8" stroke="#4a4a4a" stroke-width="1"/>
<line x1="253.9" y1="760.9" x2="253.9" y2="797.8" stroke="#000" stroke-width="1"/>
<line x1="258.7" y1="716" x2="258.7" y2="768" stroke="#000" stroke-width="1.3"/>
<line x1="258.5" y1="768" x2="258.5" y2="797.8" stroke="#4a4a4a" stroke-width="1"/>
<line x1="262.5" y1="767.7" x2="262.5" y2="792" stroke="#4a4a4a" stroke-width="1"/>
<line x1="213.4" y1="721.1" x2="258.7" y2="721.1" stroke="#000" stroke-width="1.3"/>
<polygon points="258.7,721.1 251.7,722.4 251.7,719.8" fill="#000"/>
<polygon points="213.4,721.1 220.4,719.8 220.4,722.4" fill="#000"/>
<text transform="translate(236.3,718.7)" font-family="'Liberation Serif','Noto Serif CJK SC',serif" fill="#000"><tspan x="-4.88" y="0" font-size="14" textLength="4.8" lengthAdjust="spacingAndGlyphs" stroke="#000" stroke-width="0.35">1</tspan><tspan x="0.07" y="0" font-size="14" textLength="4.8" lengthAdjust="spacingAndGlyphs" stroke="#000" stroke-width="0.35">1</tspan></text>
<line x1="166.8" y1="760.5" x2="213.4" y2="760.5" stroke="#4a4a4a" stroke-width="1"/>
<line x1="166.8" y1="799.5" x2="213.4" y2="799.5" stroke="#4a4a4a" stroke-width="1"/>
<line x1="171.5" y1="709.3" x2="171.5" y2="799.2" stroke="#4a4a4a" stroke-width="1"/>
<polygon points="171.9,760.9 173.2,767.9 170.6,767.9" fill="#222"/>
<polygon points="171.9,799.2 170.6,792.2 173.2,792.2" fill="#222"/>
<text transform="translate(170.4,731.3) rotate(-90)" font-family="'Liberation Serif','Noto Serif CJK SC',serif" fill="#000"><tspan x="-19.17" y="0" font-size="14" textLength="5.33" lengthAdjust="spacingAndGlyphs" stroke="#000" stroke-width="0.35">2</tspan><tspan x="-12.83" y="0" font-size="14" textLength="3.66" lengthAdjust="spacingAndGlyphs" stroke="#000" stroke-width="0.35">-</tspan><tspan x="-8.17" y="0" font-size="14" textLength="5.33" lengthAdjust="spacingAndGlyphs" stroke="#000" stroke-width="0.35">M</tspan><tspan x="-2.67" y="0" font-size="14" textLength="5.33" lengthAdjust="spacingAndGlyphs" stroke="#000" stroke-width="0.35">1</tspan><tspan x="2.83" y="0" font-size="14" textLength="5.33" lengthAdjust="spacingAndGlyphs" stroke="#000" stroke-width="0.35">0</tspan><tspan x="8.33" y="0" font-size="14" textLength="5.33" lengthAdjust="spacingAndGlyphs" stroke="#000" stroke-width="0.35">X</tspan><tspan x="13.83" y="0" font-size="14" textLength="5.33" lengthAdjust="spacingAndGlyphs" stroke="#000" stroke-width="0.35">1</tspan></text>
<line x1="193.2" y1="767.7" x2="193.2" y2="792" stroke="#000" stroke-width="1"/>
<polygon points="193.2,792 191.9,785 194.5,785" fill="#000"/>
<polygon points="193.2,767.7 194.5,774.7 191.9,774.7" fill="#000"/>
<text transform="translate(190.2,780.3) rotate(-90)" font-family="'Liberation Serif','Noto Serif CJK SC',serif" fill="#000"><tspan x="-5.17" y="-2.86" font-size="14.28" textLength="5.33" lengthAdjust="spacingAndGlyphs" stroke="#000" stroke-width="0.35">φ</tspan><tspan x="0.33" y="0" font-size="13.6" textLength="4.85" lengthAdjust="spacingAndGlyphs" stroke="#000" stroke-width="0.35">6</tspan></text>
<line x1="151.3" y1="779.5" x2="165.1" y2="779.5" stroke="#000" stroke-width="1.3"/>
<line x1="151.3" y1="819.3" x2="272.5" y2="819.3" stroke="#000" stroke-width="1.5"/>
<line x1="156.4" y1="779.5" x2="156.4" y2="819.2" stroke="#000" stroke-width="1"/>
<polygon points="156.4,819.2 155.1,812.2 157.7,812.2" fill="#000"/>
<polygon points="156.4,779.5 157.7,786.5 155.1,786.5" fill="#000"/>
<text transform="translate(153.4,799.2) rotate(-90)" font-family="'Liberation Serif','Noto Serif CJK SC',serif" fill="#000"><tspan x="-16.55" y="0" font-size="14" textLength="4.61" lengthAdjust="spacingAndGlyphs" stroke="#000" stroke-width="0.35">1</tspan><tspan x="-11.8" y="0" font-size="14" textLength="4.61" lengthAdjust="spacingAndGlyphs" stroke="#000" stroke-width="0.35">0</tspan><tspan x="-6.57" y="0" font-size="16.1" textLength="8.4" lengthAdjust="spacingAndGlyphs" stroke="#000" stroke-width="0.35">±</tspan><tspan x="2.45" y="0" font-size="14" textLength="4.61" lengthAdjust="spacingAndGlyphs" stroke="#000" stroke-width="0.35">0</tspan><tspan x="8.31" y="0" font-size="14" textLength="2.38" lengthAdjust="spacingAndGlyphs" stroke="#000" stroke-width="0.35">.</tspan><tspan x="11.95" y="0" font-size="14" textLength="4.61" lengthAdjust="spacingAndGlyphs" stroke="#000" stroke-width="0.35">2</tspan></text>
<line x1="154.5" y1="783" x2="154.5" y2="815.5" stroke="#4a4a4a" stroke-width="1"/>
<text transform="translate(190,810)" font-family="'Liberation Serif','Noto Serif CJK SC',serif" fill="#000"><tspan x="-9.73" y="0" font-size="12.8" textLength="4.75" lengthAdjust="spacingAndGlyphs" stroke="#000" stroke-width="0.35">T</tspan> <tspan x="0" y="0" font-size="11.6" textLength="9.8" lengthAdjust="spacingAndGlyphs" font-weight="700">口</tspan></text>
<line x1="148.3" y1="672.4" x2="262.7" y2="768" stroke="#000" stroke-width="1.5"/>
<line x1="262.7" y1="792" x2="148.5" y2="886" stroke="#000" stroke-width="1.5"/>
<path d="M150.45,677.64 A163,163 0 0 0 115.19,762.96" fill="none" stroke="#000" stroke-width="1.5"/>
<path d="M115.69,801.28 A163,163 0 0 0 150.45,882.36" fill="none" stroke="#000" stroke-width="1.5"/>
<polygon points="150.4,677.7 147.38,684.71 145.05,683.14" fill="#000"/>
<polygon points="150.4,882.3 145.05,876.86 147.38,875.29" fill="#000"/>
<text transform="translate(124.6,784.5)" font-family="'Liberation Serif','Noto Serif CJK SC',serif" fill="#000"><tspan x="-16.32" y="0" font-size="14" textLength="4.51" lengthAdjust="spacingAndGlyphs" stroke="#000" stroke-width="0.35">8</tspan><tspan x="-11.67" y="0" font-size="14" textLength="4.51" lengthAdjust="spacingAndGlyphs" stroke="#000" stroke-width="0.35">0</tspan><tspan x="-7.06" y="0" font-size="14" textLength="2.03" lengthAdjust="spacingAndGlyphs" stroke="#000" stroke-width="0.35">°</tspan><tspan x="-4.89" y="0" font-size="15.4" textLength="7.22" lengthAdjust="spacingAndGlyphs" stroke="#000" stroke-width="0.35">±</tspan><tspan x="2.51" y="0" font-size="14" textLength="4.51" lengthAdjust="spacingAndGlyphs" stroke="#000" stroke-width="0.35">3</tspan><tspan x="7.16" y="0" font-size="14" textLength="4.51" lengthAdjust="spacingAndGlyphs" stroke="#000" stroke-width="0.35">0</tspan><tspan x="13.05" y="0" font-size="14" textLength="2.03" lengthAdjust="spacingAndGlyphs" stroke="#000" stroke-width="0.35">′</tspan></text>
<path d="M279,886.2 L269.8,886.2 L264.2,891.5 L264.2,900.4 L269.8,905.4 L279,905.4 Q284.4,903.5 284.4,900.6 L284.4,891.2 Q284.4,888 279,886.2" fill="none" stroke="#000" stroke-width="1"/>
<path d="M344.8,886.2 L354,886.2 L359.6,891.5 L359.6,900.4 L354,905.4 L344.8,905.4 Q339.4,903.5 339.4,900.6 L339.4,891.2 Q339.4,888 344.8,886.2" fill="none" stroke="#000" stroke-width="1"/>
<path d="M284.4,891.2 Q311.9,881.4 339.4,891.2 M284.4,900.6 Q311.9,910.2 339.4,900.6" fill="none" stroke="#000" stroke-width="1"/>
<line x1="272.3" y1="886.2" x2="351.2" y2="886.2" stroke="#000" stroke-width="1.1"/>
<line x1="272.3" y1="905.6" x2="351.2" y2="905.6" stroke="#000" stroke-width="1.1"/>
<line x1="311.9" y1="931.2" x2="351.2" y2="931.2" stroke="#000" stroke-width="1.3"/>
<polygon points="351.2,931.2 344.2,932.5 344.2,929.9" fill="#000"/>
<polygon points="311.9,931.2 318.9,929.9 318.9,932.5" fill="#000"/>
<text transform="translate(331.4,927.8)" font-family="'Liberation Serif','Noto Serif CJK SC',serif" fill="#000"><tspan x="-17.08" y="0" font-size="14" textLength="4.75" lengthAdjust="spacingAndGlyphs" stroke="#000" stroke-width="0.35">1</tspan><tspan x="-12.18" y="0" font-size="14" textLength="4.75" lengthAdjust="spacingAndGlyphs" stroke="#000" stroke-width="0.35">0</tspan><tspan x="-6.65" y="0" font-size="16.1" textLength="8.4" lengthAdjust="spacingAndGlyphs" stroke="#000" stroke-width="0.35">±</tspan><tspan x="2.52" y="0" font-size="14" textLength="4.75" lengthAdjust="spacingAndGlyphs" stroke="#000" stroke-width="0.35">0</tspan><tspan x="8.58" y="0" font-size="14" textLength="2.45" lengthAdjust="spacingAndGlyphs" stroke="#000" stroke-width="0.35">.</tspan><tspan x="12.32" y="0" font-size="14" textLength="4.75" lengthAdjust="spacingAndGlyphs" stroke="#000" stroke-width="0.35">1</tspan></text>
<line x1="272.3" y1="954.4" x2="351.2" y2="954.4" stroke="#000" stroke-width="1.3"/>
<polygon points="351.2,954.4 344.2,955.7 344.2,953.1" fill="#000"/>
<polygon points="272.3,954.4 279.3,953.1 279.3,955.7" fill="#000"/>
<text transform="translate(319.6,952.1)" font-family="'Liberation Serif','Noto Serif CJK SC',serif" fill="#000"><tspan x="-17.43" y="0" font-size="14" textLength="4.85" lengthAdjust="spacingAndGlyphs" stroke="#000" stroke-width="0.35">2</tspan><tspan x="-12.43" y="0" font-size="14" textLength="4.85" lengthAdjust="spacingAndGlyphs" stroke="#000" stroke-width="0.35">0</tspan><tspan x="-6.7" y="0" font-size="16.1" textLength="8.4" lengthAdjust="spacingAndGlyphs" stroke="#000" stroke-width="0.35">±</tspan><tspan x="2.58" y="0" font-size="14" textLength="4.85" lengthAdjust="spacingAndGlyphs" stroke="#000" stroke-width="0.35">0</tspan><tspan x="8.75" y="0" font-size="14" textLength="2.5" lengthAdjust="spacingAndGlyphs" stroke="#000" stroke-width="0.35">.</tspan><tspan x="12.57" y="0" font-size="14" textLength="4.85" lengthAdjust="spacingAndGlyphs" stroke="#000" stroke-width="0.35">2</tspan></text>
<line x1="213.4" y1="971.2" x2="410.2" y2="971.2" stroke="#000" stroke-width="1.3"/>
<polygon points="410.2,971.2 402.7,972.55 402.7,969.85" fill="#000"/>
<polygon points="213.4,971.2 220.9,969.85 220.9,972.55" fill="#000"/>
<text transform="translate(311.8,969.2)" font-family="'Liberation Serif','Noto Serif CJK SC',serif" fill="#000"><tspan x="-4.88" y="0" font-size="14" textLength="4.8" lengthAdjust="spacingAndGlyphs" stroke="#000" stroke-width="0.35">5</tspan><tspan x="0.07" y="0" font-size="14" textLength="4.8" lengthAdjust="spacingAndGlyphs" stroke="#000" stroke-width="0.35">0</tspan></text>
<line x1="398.5" y1="750.1" x2="319.7" y2="798.5" stroke="#1a1a1a" stroke-width="0.7"/>
<line x1="398.5" y1="750.5" x2="435" y2="750.5" stroke="#4a4a4a" stroke-width="1"/>
<line x1="325.1" y1="773.1" x2="423.5" y2="798.5" stroke="#1a1a1a" stroke-width="0.7"/>
<line x1="423.5" y1="798.5" x2="458" y2="798.5" stroke="#4a4a4a" stroke-width="1"/>
<polygon points="368.92,769.01 373.36,764.77 374.72,766.98" fill="#000"/>
<polygon points="333.48,790.79 329.04,795.03 327.68,792.82" fill="#000"/>
<polygon points="361.75,782.62 368.35,783.09 367.75,785.41" fill="#000"/>
<polygon points="340.65,777.18 334.05,776.71 334.65,774.39" fill="#000"/>
<text transform="translate(418.4,747.8)" font-family="'Liberation Serif','Noto Serif CJK SC',serif" fill="#000"><tspan x="-19.68" y="0" font-size="14" textLength="5.04" lengthAdjust="spacingAndGlyphs" stroke="#000" stroke-width="0.35">2</tspan><tspan x="-13.69" y="0" font-size="14" textLength="3.46" lengthAdjust="spacingAndGlyphs" stroke="#000" stroke-width="0.35">-</tspan><tspan x="-7.83" y="-2.94" font-size="14.7" textLength="5.26" lengthAdjust="spacingAndGlyphs" stroke="#000" stroke-width="0.35">φ</tspan><tspan x="-0.96" y="0" font-size="14" textLength="5.04" lengthAdjust="spacingAndGlyphs" stroke="#000" stroke-width="0.35">1</tspan><tspan x="4.24" y="0" font-size="14" textLength="5.04" lengthAdjust="spacingAndGlyphs" stroke="#000" stroke-width="0.35">0</tspan><tspan x="10.66" y="0" font-size="14" textLength="2.6" lengthAdjust="spacingAndGlyphs" stroke="#000" stroke-width="0.35">.</tspan><tspan x="14.64" y="0" font-size="14" textLength="5.04" lengthAdjust="spacingAndGlyphs" stroke="#000" stroke-width="0.35">2</tspan></text>
<text transform="translate(441,797)" font-family="'Liberation Serif','Noto Serif CJK SC',serif" fill="#000"><tspan x="-17.08" y="0" font-size="14" textLength="5.04" lengthAdjust="spacingAndGlyphs" stroke="#000" stroke-width="0.35">2</tspan><tspan x="-11.09" y="0" font-size="14" textLength="3.46" lengthAdjust="spacingAndGlyphs" stroke="#000" stroke-width="0.35">-</tspan><tspan x="-5.23" y="-2.94" font-size="14.7" textLength="5.26" lengthAdjust="spacingAndGlyphs" stroke="#000" stroke-width="0.35">φ</tspan><tspan x="1.64" y="0" font-size="14" textLength="5.04" lengthAdjust="spacingAndGlyphs" stroke="#000" stroke-width="0.35">5</tspan><tspan x="8.06" y="0" font-size="14" textLength="2.6" lengthAdjust="spacingAndGlyphs" stroke="#000" stroke-width="0.35">.</tspan><tspan x="12.04" y="0" font-size="14" textLength="5.04" lengthAdjust="spacingAndGlyphs" stroke="#000" stroke-width="0.35">5</tspan></text>
<text transform="translate(427.2,835.6)" font-family="'Liberation Serif','Noto Serif CJK SC',serif" fill="#000"><tspan x="-9.33" y="0" font-size="12.8" textLength="4.56" lengthAdjust="spacingAndGlyphs" stroke="#000" stroke-width="0.35">P</tspan> <tspan x="0" y="0" font-size="11.6" textLength="9.4" lengthAdjust="spacingAndGlyphs" font-weight="700">口</tspan></text>
<!-- side view -->
<line x1="613.9" y1="411.9" x2="613.9" y2="453.3" stroke="#000" stroke-width="1.5"/>
<line x1="697" y1="411.9" x2="697" y2="499.5" stroke="#000" stroke-width="1.5"/>
<line x1="613.9" y1="417.4" x2="697" y2="417.4" stroke="#000" stroke-width="1.3"/>
<polygon points="697,417.4 689.5,418.75 689.5,416.05" fill="#000"/>
<polygon points="613.9,417.4 621.4,416.05 621.4,418.75" fill="#000"/>
<text transform="translate(655.3,414.8)" font-family="'Liberation Serif','Noto Serif CJK SC',serif" fill="#000"><tspan x="-4.88" y="0" font-size="14" textLength="4.8" lengthAdjust="spacingAndGlyphs" stroke="#000" stroke-width="0.35">2</tspan><tspan x="0.07" y="0" font-size="14" textLength="4.8" lengthAdjust="spacingAndGlyphs" stroke="#000" stroke-width="0.35">1</tspan></text>
<line x1="613.5" y1="453.3" x2="613.5" y2="890" stroke="#707070" stroke-width="1" stroke-dasharray="16 3 4 3"/>
<line x1="571" y1="499.5" x2="700" y2="499.5" stroke="#707070" stroke-width="1" stroke-dasharray="16 3 4 3"/>
<line x1="678.5" y1="476.4" x2="678.5" y2="522" stroke="#707070" stroke-width="1" stroke-dasharray="8 3"/>
<line x1="556" y1="780.5" x2="674" y2="780.5" stroke="#707070" stroke-width="1" stroke-dasharray="16 3 4 3"/>
<path d="M606,541.3 L606,453.3 L622.3,453.3 L622.3,541.3" fill="none" stroke="#000" stroke-width="1.3"/>
<path d="M606,541.3 Q602,545 602,549 L602,613.3 M622.3,541.3 Q626.8,545 626.8,549 L626.8,613.3" fill="none" stroke="#000" stroke-width="1.3"/>
<path d="M578,487.2 L583.3,487.2 L583.3,511.4 L578,511.4 Q575.6,510.3 575.6,508 L575.6,490.6 Q575.6,488.3 578,487.2 Z" fill="none" stroke="#000" stroke-width="1"/>
<line x1="578.5" y1="488" x2="578.5" y2="510.8" stroke="#4a4a4a" stroke-width="1"/>
<line x1="580.5" y1="487.5" x2="580.5" y2="511.2" stroke="#4a4a4a" stroke-width="1"/>
<rect x="583.3" y="481.4" width="6.8" height="36.8" fill="none" stroke="#222" stroke-width="0.9"/>
<path d="M606,479.6 L592.5,479.6 Q590.3,480.6 590.3,482.6 L590.3,517 Q590.3,519 592.5,520 L606,520" fill="none" stroke="#000" stroke-width="1.1"/>
<path d="M590.3,489.2 L601.5,489.2 M590.3,510.4 L601.5,510.4" fill="none" stroke="#222" stroke-width="0.9"/>
<path d="M606,480.5 Q601,484 601.5,489.2 Q606.2,494 606.2,499.7 Q606.2,505.5 601.5,510.4 Q601,515.5 606,519.2" fill="none" stroke="#000" stroke-width="0.9"/>
<rect x="622.8" y="479.6" width="10.8" height="40.4" fill="none" stroke="#000" stroke-width="1.2"/>
<path d="M633.6,481.6 L642,481.6 M633.6,517.6 L642,517.6" fill="none" stroke="#000" stroke-width="1"/>
<path d="M633.6,489.2 L641,489.2 Q645.6,494 645.6,499.7 Q645.6,505.5 641,510.4 L633.6,510.4" fill="none" stroke="#000" stroke-width="0.9"/>
<path d="M642,481.6 L642,489 M642,510.6 L642,517.6" fill="none" stroke="#000" stroke-width="0.9"/>
<path d="M642,482.2 Q650.5,483.6 655,487.2 Q659.5,489.6 665.3,488.8" fill="none" stroke="#000" stroke-width="1.1"/>
<path d="M642,517.2 Q650.5,515.8 655,512.2 Q659.5,509.8 665.3,510.6" fill="none" stroke="#000" stroke-width="1.1"/>
<line x1="665.3" y1="488.8" x2="665.3" y2="510.6" stroke="#000" stroke-width="1"/>
<path d="M663.54,489.79 A18.2,18.2 0 1 1 663.54,509.61" fill="none" stroke="#000" stroke-width="1.2"/>
<line x1="542" y1="541.5" x2="563.6" y2="541.5" stroke="#4a4a4a" stroke-width="1"/>
<line x1="563.6" y1="541.3" x2="598.3" y2="516.2" stroke="#1a1a1a" stroke-width="0.7"/>
<circle cx="598.3" cy="516.2" r="0.9" fill="#222" stroke="#222" stroke-width="0.5"/>
<text transform="translate(552,539.2)" font-family="'Liberation Serif','Noto Serif CJK SC',serif" fill="#000"><tspan x="-8.44" y="0" font-size="11.8" textLength="4.12" lengthAdjust="spacingAndGlyphs" stroke="#000" stroke-width="0.3">S</tspan><tspan x="-4.19" y="0" font-size="11.8" textLength="4.12" lengthAdjust="spacingAndGlyphs" stroke="#000" stroke-width="0.3">=</tspan><tspan x="0.06" y="0" font-size="11.8" textLength="4.12" lengthAdjust="spacingAndGlyphs" stroke="#000" stroke-width="0.3">1</tspan><tspan x="4.31" y="0" font-size="11.8" textLength="4.12" lengthAdjust="spacingAndGlyphs" stroke="#000" stroke-width="0.3">0</tspan></text>
<path d="M571.5,631.9 A31,31 0 0 1 598.8,613.8 M629.8,613.8 A31,31 0 0 1 656.5,631.9" fill="none" stroke="#000" stroke-width="1.3"/>
<path d="M598.8,613.8 L598.8,624.5 L629.8,624.5 L629.8,613.8" fill="none" stroke="#000" stroke-width="1.1"/>
<path d="M598.8,613.8 Q614,612.0 629.8,613.8" fill="none" stroke="#000" stroke-width="1"/>
<rect x="571" y="631.9" width="85.5" height="11.7" fill="none" stroke="#000" stroke-width="1.3"/>
<rect x="566.5" y="643.6" width="94.7" height="50.3" fill="none" stroke="#000" stroke-width="1.3"/>
<rect x="571" y="693.9" width="85.5" height="7.4" fill="none" stroke="#000" stroke-width="1.3"/>
<line x1="578.4" y1="701.3" x2="578.4" y2="744.3" stroke="#000" stroke-width="1.3"/>
<line x1="649.8" y1="701.3" x2="649.8" y2="744.3" stroke="#000" stroke-width="1.3"/>
<text transform="translate(612.8,673.2)" font-family="'Liberation Serif','Noto Serif CJK SC',serif" fill="#000"><tspan x="-14.41" y="0" font-size="16.5" textLength="5.63" lengthAdjust="spacingAndGlyphs" stroke="#000" stroke-width="0.35">Y</tspan><tspan x="-8.61" y="0" font-size="16.5" textLength="5.63" lengthAdjust="spacingAndGlyphs" stroke="#000" stroke-width="0.35">S</tspan><tspan x="-2.81" y="0" font-size="16.5" textLength="5.63" lengthAdjust="spacingAndGlyphs" stroke="#000" stroke-width="0.35">K</tspan><tspan x="3.87" y="0" font-size="16.5" textLength="3.86" lengthAdjust="spacingAndGlyphs" stroke="#000" stroke-width="0.35">-</tspan><tspan x="8.79" y="0" font-size="16.5" textLength="5.63" lengthAdjust="spacingAndGlyphs" stroke="#000" stroke-width="0.35">2</tspan></text>
<path d="M574.7,803.1 L574.7,744.3 L654.1,744.3 L654.1,803.1" fill="none" stroke="#000" stroke-width="1.3"/>
<line x1="564.6" y1="760.4" x2="574.7" y2="760.4" stroke="#000" stroke-width="1.3"/>
<line x1="654.1" y1="760.4" x2="663.2" y2="760.4" stroke="#000" stroke-width="1.3"/>
<line x1="564.7" y1="760.4" x2="564.7" y2="947" stroke="#000" stroke-width="1.5"/>
<line x1="663.2" y1="760.4" x2="663.2" y2="947" stroke="#000" stroke-width="1.5"/>
<path d="M564.6,803.1 L574.7,803.1 Q579,803.1 582.5,797.5" fill="none" stroke="#000" stroke-width="1"/>
<path d="M663.2,803.1 L654.1,803.1 Q649.5,803.1 645.5,797.5" fill="none" stroke="#000" stroke-width="1"/>
<circle cx="613.9" cy="780" r="35.3" fill="none" stroke="#000" stroke-width="1.3"/>
<circle cx="613.9" cy="780" r="20" fill="none" stroke="#000" stroke-width="1"/>
<circle cx="613.9" cy="780" r="18.4" fill="none" stroke="#1a1a1a" stroke-width="0.7"/>
<circle cx="613.9" cy="780" r="12.4" fill="none" stroke="#000" stroke-width="1"/>
<circle cx="613.9" cy="780" r="7.7" fill="none" stroke="#000" stroke-width="1"/>
<path d="M605.7,814.3 L605.7,830.3 A8.4,8.4 0 0 0 622.6,830.3 L622.6,814.3" fill="none" stroke="#000" stroke-width="1"/>
<line x1="605.7" y1="830.5" x2="625" y2="830.5" stroke="#4a4a4a" stroke-width="1"/>
<path d="M565.2,839.3 L613.9,844.2 L662.6,839.3" fill="none" stroke="#000" stroke-width="1"/>
<path d="M565.2,839.3 Q571.5,842 574.7,850.5 L654.1,850.5 Q657.5,842 662.6,839.3" fill="none" stroke="#000" stroke-width="1"/>
<path d="M582.6,850.5 L582.6,862.2 M646.1,850.5 L646.1,862.2" fill="none" stroke="#000" stroke-width="1"/>
<rect x="574.7" y="862.2" width="79.4" height="23.5" fill="none" stroke="#000" stroke-width="1"/>
<path d="M575.2,891.5 Q583,886.2 594.7,886.2 Q606,886.2 614.2,892.3 L614.2,900 Q606,905.7 594.7,905.7 Q583,905.7 575.2,900.7 Z" fill="none" stroke="#000" stroke-width="1"/>
<path d="M653.8,891.5 Q645.4,886.2 633.7,886.2 Q622.4,886.2 614.2,892.3 M614.2,900 Q622.4,905.7 633.7,905.7 Q645.4,905.7 653.8,900.7 L653.8,891.5" fill="none" stroke="#000" stroke-width="1"/>
<line x1="593" y1="905.5" x2="636" y2="905.5" stroke="#4a4a4a" stroke-width="1"/>
<line x1="564.6" y1="941.5" x2="663.2" y2="941.5" stroke="#000" stroke-width="1.3"/>
<polygon points="663.2,941.5 655.7,942.85 655.7,940.15" fill="#000"/>
<polygon points="564.6,941.5 572.1,940.15 572.1,942.85" fill="#000"/>
<text transform="translate(614.4,939)" font-family="'Liberation Serif','Noto Serif CJK SC',serif" fill="#000"><tspan x="-4.88" y="0" font-size="14" textLength="4.8" lengthAdjust="spacingAndGlyphs" stroke="#000" stroke-width="0.35">2</tspan><tspan x="0.07" y="0" font-size="14" textLength="4.8" lengthAdjust="spacingAndGlyphs" stroke="#000" stroke-width="0.35">5</tspan></text>
<line x1="578.4" y1="749.3" x2="686.3" y2="841.5" stroke="#1a1a1a" stroke-width="0.7"/>
<line x1="686.3" y1="841.5" x2="704.9" y2="841.5" stroke="#4a4a4a" stroke-width="1"/>
<polygon points="587.06,757.07 581.21,753.91 583.03,751.78" fill="#000"/>
<polygon points="640.74,802.93 646.59,806.09 644.77,808.22" fill="#000"/>
<text transform="translate(695.4,839)" font-family="'Liberation Serif','Noto Serif CJK SC',serif" fill="#000"><tspan x="-7.63" y="-2.94" font-size="14.7" textLength="5.26" lengthAdjust="spacingAndGlyphs" stroke="#000" stroke-width="0.35">φ</tspan><tspan x="-1.17" y="0" font-size="14" textLength="4.85" lengthAdjust="spacingAndGlyphs" stroke="#000" stroke-width="0.35">1</tspan><tspan x="3.83" y="0" font-size="14" textLength="4.85" lengthAdjust="spacingAndGlyphs" stroke="#000" stroke-width="0.35">8</tspan></text>
</svg>
</body>
</html>
